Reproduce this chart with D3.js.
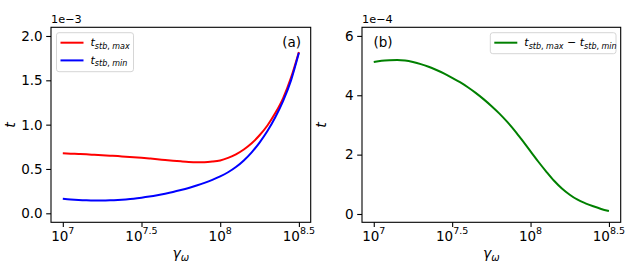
<!DOCTYPE html>
<html><head><meta charset="utf-8">
<script src="https://cdn.jsdelivr.net/npm/d3@7"></script>
<style>
body{margin:0;background:#fff;}
text{font-family:"DejaVu Sans",sans-serif;fill:#000;}
</style></head>
<body><svg id="c" width="634" height="278"></svg>
<script>
// log10(gamma_omega) sample points
const logGamma = [7.00,7.05,7.10,7.15,7.20,7.25,7.30,7.35,7.40,7.45,7.50,7.55,7.60,7.65,7.70,7.75,7.80,7.85,7.90,7.95,8.00,8.05,8.10,8.15,8.20,8.25,8.30,8.35,8.40,8.45,8.50];
// t_stb,max  (x1e-3)
const tMax = [0.677,0.673,0.669,0.665,0.660,0.655,0.650,0.645,0.639,0.633,0.626,0.618,0.610,0.601,0.593,0.586,0.580,0.577,0.577,0.583,0.596,0.625,0.665,0.720,0.790,0.880,0.990,1.130,1.300,1.530,1.820];
// t_stb,min  (x1e-3)
const tMin = [0.165,0.157,0.151,0.147,0.145,0.145,0.147,0.151,0.157,0.165,0.176,0.189,0.204,0.221,0.240,0.262,0.286,0.313,0.343,0.377,0.416,0.463,0.522,0.596,0.688,0.798,0.928,1.083,1.268,1.500,1.810];
// t_stb,max - t_stb,min  (x1e-4)
const tDiff = [5.12,5.16,5.18,5.19,5.17,5.12,5.05,4.96,4.85,4.73,4.59,4.44,4.27,4.08,3.87,3.64,3.39,3.11,2.80,2.46,2.11,1.76,1.43,1.12,0.86,0.65,0.48,0.36,0.26,0.17,0.10];
const xTicks = [7, 7.5, 8, 8.5];
const xTickLabels = ["7", "7.5", "8", "8.5"];
const yTicksA = [0.0, 0.5, 1.0, 1.5, 2.0];
const yTicksB = [0, 2, 4, 6];

const svg = d3.select("#c");

function panel(o){
  const g = svg.append("g");
  const x = d3.scaleLog().domain([Math.pow(10,6.925), Math.pow(10,8.575)]).range([o.x0, o.x1]);
  const y = d3.scaleLinear().domain(o.ydom).range([o.y1, o.y0]);
  o.series.forEach(s=>{
    const data = logGamma.map((l,i)=>[Math.pow(10,l), s.values[i]]);
    g.append("path").datum(data)
      .attr("fill","none").attr("stroke",s.color).attr("stroke-width",2)
      .attr("d", d3.line().x(d=>x(d[0])).y(d=>y(d[1])).curve(d3.curveMonotoneX));
  });
  g.append("rect").attr("x",o.x0).attr("y",o.y0).attr("width",o.x1-o.x0).attr("height",o.y1-o.y0)
    .attr("fill","none").attr("stroke","#000").attr("stroke-width",1.1);
  const xa = g.append("g").attr("transform",`translate(0,${o.y1})`)
    .call(d3.axisBottom(x).tickValues(xTicks.map(t=>Math.pow(10,t))).tickSize(4.8).tickFormat(""));
  xa.select(".domain").remove();
  xa.selectAll(".tick line").attr("stroke","#000").attr("stroke-width",1.1);
  xTicks.forEach((t,i)=>{
    const tx = g.append("text").attr("x", x(Math.pow(10,t))).attr("y", o.y1+19).attr("text-anchor","middle").style("font-size","13.5px");
    tx.append("tspan").text("10");
    tx.append("tspan").attr("dy",-7).style("font-size","9.5px").text(xTickLabels[i]);
  });
  const ya = g.append("g").attr("transform",`translate(${o.x0},0)`)
    .call(d3.axisLeft(y).tickValues(o.yticks).tickSize(4.8).tickFormat(""));
  ya.select(".domain").remove();
  ya.selectAll(".tick line").attr("stroke","#000").attr("stroke-width",1.1);
  o.yticks.forEach(t=>{
    g.append("text").attr("x",o.x0-8.3).attr("y",y(t)).attr("dy","0.36em").attr("text-anchor","end")
      .style("font-size","13.5px").text(o.yfmt(t));
  });
  g.append("text").attr("x",o.x0).attr("y",23).style("font-size","11.3px").text(o.offset);
  g.append("text").attr("transform",`translate(${o.x0-36},125) rotate(-90)`).attr("text-anchor","middle")
    .style("font-size","14px").style("font-style","italic").text("t");
  const xl = g.append("text").attr("x",(o.x0+o.x1)/2).attr("y",258).attr("text-anchor","middle").style("font-size","14px").style("font-style","italic");
  xl.append("tspan").text("γ");
  xl.append("tspan").attr("dy",3).style("font-size","10px").text("ω");
  g.append("text").attr("x",o.tagX).attr("y",47).attr("text-anchor",o.tagAnchor).style("font-size","13.5px").text(o.tag);
  const L = o.legend;
  g.append("rect").attr("x",L.x).attr("y",L.y).attr("width",L.w).attr("height",L.h).attr("rx",2.5)
    .attr("fill","#fff").attr("fill-opacity",0.8).attr("stroke","#d6d6d6").attr("stroke-width",1);
  L.items.forEach((it,i)=>{
    const yy = L.y + 10 + i*17.7;
    g.append("line").attr("x1",L.x+4).attr("x2",L.x+27).attr("y1",yy).attr("y2",yy).attr("stroke",it.color).attr("stroke-width",2);
    const t = g.append("text").attr("x",L.x+34).attr("y",yy+3.5).style("font-size","11px");
    it.parts.forEach(p=>{
      const ts = t.append("tspan").text(p.t).style("font-style", p.i ? "italic":"normal");
      if(p.sub){ ts.style("font-size","8px"); }
      if(p.dy!==undefined) ts.attr("dy",p.dy);
    });
  });
}

const lblMax = [{t:"t",i:true},{t:"stb",i:true,sub:true,dy:2.5},{t:", ",sub:true},{t:"max",i:true,sub:true}];
const lblMin = [{t:"t",i:true},{t:"stb",i:true,sub:true,dy:2.5},{t:", ",sub:true},{t:"min",i:true,sub:true}];
const lblDiff = [{t:"t",i:true},{t:"stb",i:true,sub:true,dy:2.5},{t:", ",sub:true},{t:"max",i:true,sub:true},
  {t:" − ",dy:-2.5},{t:"t",i:true},{t:"stb",i:true,sub:true,dy:2.5},{t:", ",sub:true},{t:"min",i:true,sub:true}];

panel({x0:51,x1:310.7,y0:27.3,y1:222.3,ydom:[-0.1015,2.098],yticks:yTicksA,yfmt:d3.format(".1f"),
  offset:"1e−3", tag:"(a)", tagX:301, tagAnchor:"end",
  series:[{values:tMax,color:"#ff0000"},{values:tMin,color:"#0000ff"}],
  legend:{x:56.5,y:32.7,w:77,h:39,items:[{color:"#ff0000",parts:lblMax},{color:"#0000ff",parts:lblMin}]}});

panel({x0:362,x1:620.7,y0:27.3,y1:222.3,ydom:[-0.28,6.29],yticks:yTicksB,yfmt:d3.format("d"),
  offset:"1e−4", tag:"(b)", tagX:373.5, tagAnchor:"start",
  series:[{values:tDiff,color:"#008000"}],
  legend:{x:490.3,y:32.7,w:125.7,h:21,items:[{color:"#008000",parts:lblDiff}]}});
</script></body></html>
